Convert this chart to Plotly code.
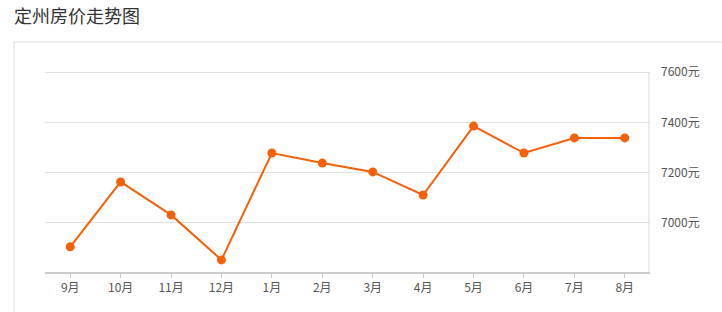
import plotly.graph_objects as go

months = ["9月", "10月", "11月", "12月", "1月", "2月", "3月", "4月", "5月", "6月", "7月", "8月"]
prices = [6905, 7163, 7032, 6853, 7278, 7238, 7203, 7111, 7385, 7278, 7338, 7338]
y_ticks = [7000, 7200, 7400, 7600]
y_tick_labels = [f"{v}元" for v in y_ticks]
title_text = "定州房价走势图"

W, H = 722, 312
L, R, T, B = 45, 72, 66, 40
pw, ph = W - L - R, H - T - B
y_range = [6805, 7624]

def px_to_paper_x(px):
    return (px - L) / pw

def px_to_paper_y(py):
    return 1 - (py - T) / ph

fig = go.Figure()
fig.add_trace(go.Scatter(
    x=months, y=prices, mode="lines+markers",
    line=dict(color="#f5600a", width=2),
    marker=dict(color="#f5600a", size=9),
    hoverinfo="skip",
))

fig.update_layout(
    width=W, height=H,
    margin=dict(l=L, r=R, t=T, b=B),
    paper_bgcolor="white", plot_bgcolor="white",
    showlegend=False,
    font=dict(family="Noto Sans CJK SC, Noto Sans, sans-serif", color="#555"),
    xaxis=dict(
        type="category", range=[-0.5, len(months) - 0.5],
        showgrid=False, zeroline=False,
        showline=True, linecolor="#cccccc", linewidth=2,
        ticks="outside", ticklen=4, tickcolor="#cccccc", tickwidth=1,
        tickfont=dict(size=12, color="#555"),
        fixedrange=True,
    ),
    yaxis=dict(
        side="right", range=y_range,
        tickmode="array", tickvals=y_ticks, ticktext=y_tick_labels,
        showgrid=True, gridcolor="#e2e2e2", gridwidth=1,
        zeroline=False, showline=False,
        ticks="", ticklabelstandoff=10,
        tickfont=dict(size=12, color="#555"),
        fixedrange=True,
    ),
    shapes=[
        dict(
            type="rect", xref="paper", yref="paper",
            x0=px_to_paper_x(14), x1=px_to_paper_x(740),
            y0=px_to_paper_y(330), y1=px_to_paper_y(42),
            line=dict(color="#dddddd", width=1), fillcolor="rgba(0,0,0,0)",
            layer="below",
        ),
        dict(
            type="line", xref="paper", yref="y",
            x0=1 - 1.0 / pw, x1=1 - 1.0 / pw, y0=y_range[0], y1=y_ticks[-1],
            line=dict(color="#dddddd", width=1),
            layer="above",
        ),
    ],
    annotations=[dict(
        text=title_text, xref="paper", yref="paper",
        x=px_to_paper_x(12), y=px_to_paper_y(15),
        xanchor="left", yanchor="middle", showarrow=False,
        font=dict(size=18, color="#333"),
    )],
)

fig.write_html("out.html")
